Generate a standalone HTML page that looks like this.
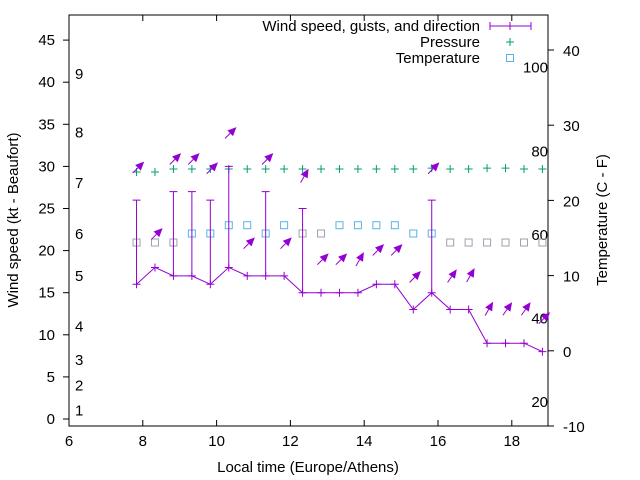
<!DOCTYPE html>
<html><head><meta charset="utf-8"><style>
body{margin:0;background:#fff}
svg{display:block;font-family:"Liberation Sans",sans-serif}
</style></head><body>
<svg id="chart" width="640" height="480" viewBox="0 0 640 480" xmlns="http://www.w3.org/2000/svg">
<g id="axes"></g>
<g id="marks"></g>
<g id="legend"></g>
</svg>
<script>
const times=[7.83,8.33,8.83,9.33,9.83,10.33,10.83,11.33,11.83,12.33,12.83,13.33,13.83,14.33,14.83,15.33,15.83,16.33,16.83,17.33,17.83,18.33,18.83];
const wind=[16,18,17,17,16,18,17,17,17,15,15,15,15,16,16,13,15,13,13,9,9,9,8];
const gust=[26,null,27,27,26,30,null,27,null,25,null,null,null,null,null,null,26,null,null,null,null,null,null];
const arrowLevel=[29.9,22,30.9,30.9,29.8,34,20.9,30.9,20.9,28.9,19,19,19,20.1,20.1,16.9,29.8,17,17.1,13.1,13.1,13.1,12];
const windDir=[225,225,225,225,225,225,225,225,225,210,225,225,210,225,225,225,225,215,210,210,215,215,225];
const pressure=[1012,1012,1013,1013,1013,1013,1013,1013,1013,1013,1013,1013,1013,1013,1013,1013,1013.3,1013,1013,1013.3,1013.3,1013,1013];
const temperature=[14.4,14.4,14.4,15.6,15.6,16.7,16.7,15.6,16.7,15.6,15.6,16.7,16.7,16.7,16.7,15.6,15.6,14.4,14.4,14.4,14.4,14.4,14.4];
const tempGrey=[1,1,1,0,0,0,0,0,0,1,1,0,0,0,0,0,0,1,1,1,1,1,1];
const xTicks=[6,8,10,12,14,16,18];
const yTicks=[0,5,10,15,20,25,30,35,40,45];
const y2Ticks=[-10,0,10,20,30,40];
const fTicks=[20,40,60,80,100];
const beaufort=[1,2,3,4,5,6,7,8,9];
const beaufortKt=[1,4,7,11,17,22,28,34,41];

const L=69,R=548,T=15,B=426;
const X=t=>L+(t-6)*36.9;
const Y=v=>419-v*8.42;
const Y2=c=>426-(c+10)*7.52;
const YF=f=>Y2((f-32)*5/9);
const YP=p=>169-(p-1013)*3;
const NS='http://www.w3.org/2000/svg';
function mk(tag,attrs,parent,text){const e=document.createElementNS(NS,tag);for(const k in attrs)e.setAttribute(k,attrs[k]);if(text!==undefined)e.textContent=text;parent.appendChild(e);return e;}
const ax=document.getElementById('axes'),mg=document.getElementById('marks'),lg=document.getElementById('legend');
let e;
e=mk('rect',{x:L,y:T,width:R-L,height:B-T,fill:'none',stroke:'#000','stroke-width':1},ax);

xTicks.forEach(t=>{const x=X(t);
 mk('line',{x1:x,y1:B,x2:x,y2:B-6,stroke:'#000'},ax);mk('line',{x1:x,y1:T,x2:x,y2:T+6,stroke:'#000'},ax);
 e=mk('text',{x:x,y:B+20,'text-anchor':'middle','font-size':15},ax,t);
 });
yTicks.forEach(v=>{const y=Y(v);mk('line',{x1:L-6,y1:y,x2:L,y2:y,stroke:'#000'},ax);
 e=mk('text',{x:55,y:y+5,'text-anchor':'end','font-size':15},ax,v);
 });
y2Ticks.forEach(v=>{const y=Y2(v);mk('line',{x1:R,y1:y,x2:R+6,y2:y,stroke:'#000'},ax);
 e=mk('text',{x:563,y:y+6,'font-size':15},ax,v);
 });
fTicks.forEach(f=>{e=mk('text',{x:548,y:YF(f)+6,'text-anchor':'end','font-size':15},ax,f);
 });
beaufort.forEach((b,i)=>{e=mk('text',{x:75,y:Y(beaufortKt[i])+5,'font-size':15},ax,b);
 });
e=mk('text',{x:308,y:472,'text-anchor':'middle','font-size':15},ax,'Local time (Europe/Athens)');

e=mk('text',{x:0,y:0,'text-anchor':'middle','font-size':15,transform:'translate(18,220) rotate(-90)'},ax,'Wind speed (kt - Beaufort)');

e=mk('text',{x:0,y:0,'text-anchor':'middle','font-size':15,transform:'translate(607,220) rotate(-90)'},ax,'Temperature (C - F)');


const P='#9400d3',G='#009e73',BL='#56b4e9',GR='#a0a0b0';
times.forEach((t,i)=>{const x=X(t),y=YP(pressure[i]);
 e=mk('path',{d:`M${x-4} ${y}H${x+4}M${x} ${y-4}V${y+4}`,stroke:G,fill:'none'},mg);
 });
times.forEach((t,i)=>{const x=X(t),y=Y2(temperature[i]);
 e=mk('rect',{x:x-3.5,y:y-3.5,width:7,height:7,fill:'none',stroke:tempGrey[i]?GR:BL},mg);
 });
e=mk('polyline',{points:times.map((t,i)=>X(t)+','+Y(wind[i])).join(' '),fill:'none',stroke:P},mg);

times.forEach((t,i)=>{const x=X(t),y=Y(wind[i]);
 e=mk('path',{d:`M${x-4} ${y}H${x+4}M${x} ${y-4}V${y+4}`,stroke:P},mg);
 
 if(gust[i]!=null){const yg=Y(gust[i]);
  e=mk('path',{d:`M${x} ${y}V${yg}M${x-4} ${yg}H${x+4}`,stroke:P},mg);
  }
 const a=(windDir[i]+180)*Math.PI/180,len=16,cx=x+2,cy=Y(arrowLevel[i]);
 const dx=Math.sin(a)*len/2,dy=-Math.cos(a)*len/2;
 const hx=cx+dx,hy=cy+dy,tx=cx-dx,ty=cy-dy;
 const ux=dx/(len/2),uy=dy/(len/2),s=8;
 const bx=hx-ux*s*1.1,by=hy-uy*s*1.1;
 e=mk('line',{x1:tx,y1:ty,x2:bx,y2:by,stroke:P},mg);
 
 e=mk('polygon',{points:`${hx},${hy} ${bx-uy*s/2},${by+ux*s/2} ${bx+uy*s/2},${by-ux*s/2}`,fill:P},mg);
 });
const lt=[['Wind speed, gusts, and direction',26],['Pressure',42],['Temperature',58]];
lt.forEach(([s,y])=>{e=mk('text',{x:480,y:y+5,'text-anchor':'end','font-size':15},lg,s);
 });
e=mk('path',{d:'M490 26H531M490 22V30M531 22V30M510 22V30',stroke:P,fill:'none'},lg);

e=mk('path',{d:'M506 42H514M510 38V46',stroke:G},lg);

e=mk('rect',{x:506.5,y:54.5,width:7,height:7,fill:'none',stroke:BL},lg);

</script>
</body></html>
